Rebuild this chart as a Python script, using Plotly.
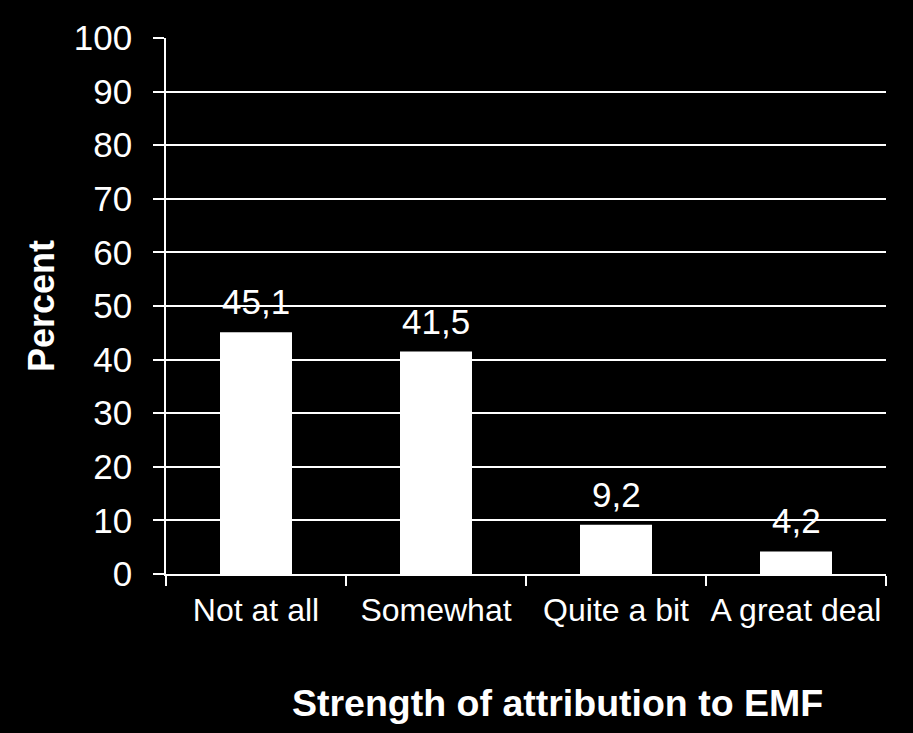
import plotly.graph_objects as go

categories = ["Not at all", "Somewhat", "Quite a bit", "A great deal"]
values = [45.1, 41.5, 9.2, 4.2]
y_ticks = list(range(0, 101, 10))

labels = [f"{v:.1f}".replace(".", ",") for v in values]
FONT = "Liberation Sans, Arial, sans-serif"

fig = go.Figure()
fig.add_trace(go.Bar(
    x=categories, y=values, width=0.4,
    marker=dict(color="white", line=dict(width=0)),
))

for c, v, t in zip(categories, values, labels):
    fig.add_annotation(x=c, y=v, text=t, showarrow=False, yanchor="bottom",
                       yshift=9, font=dict(family=FONT, size=35, color="white"))

plot_w = 913 - 166 - 27
plot_h = 733 - 38 - 159
fig.add_annotation(x=(557 - 166) / plot_w, y=(733 - 159 - 703) / plot_h, xref="paper", yref="paper",
                   text="<b>Strength of attribution to EMF</b>", xanchor="center", yanchor="middle",
                   showarrow=False, font=dict(family=FONT, size=37.5, color="white"))

fig.update_layout(
    width=913, height=733,
    paper_bgcolor="black", plot_bgcolor="black",
    margin=dict(l=166, r=27, t=38, b=159),
    showlegend=False,
    bargap=0.6,
    font=dict(family=FONT, color="white"),
)

fig.update_xaxes(
    showline=True, linecolor="white", linewidth=1.5,
    ticks="outside", tickson="boundaries", ticklen=10, tickcolor="white", tickwidth=1.5,
    tickfont=dict(family=FONT, size=32, color="white"),
    tickangle=0, automargin=False,
    ticklabelstandoff=7,
    showgrid=False,
)
fig.update_yaxes(
    range=[0, 100], tickvals=y_ticks, ticktext=[str(v) for v in y_ticks],
    showline=True, linecolor="white", linewidth=1.5,
    ticks="outside", ticklen=11, tickcolor="white", tickwidth=1.5,
    tickfont=dict(family=FONT, size=35, color="white"),
    showgrid=True, gridcolor="white", gridwidth=1.5,
    zeroline=False, automargin=False,
    ticklabelstandoff=14,
    title=dict(text="<b>Percent</b>", font=dict(family=FONT, size=36, color="white"), standoff=8),
)

fig.write_html("out.html")
